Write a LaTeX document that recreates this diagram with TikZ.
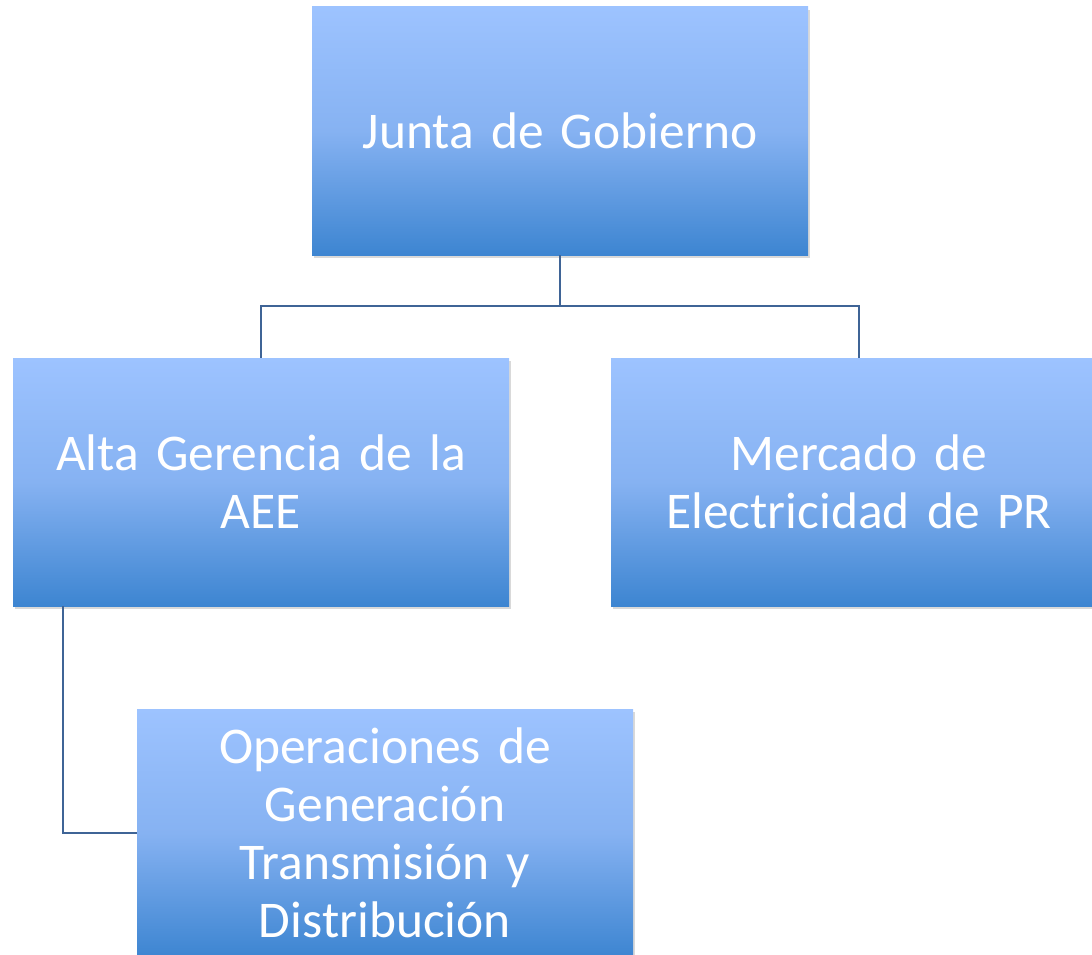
\documentclass[tikz,border=0pt]{standalone}
\usepackage{fontspec}
\setmainfont[WordSpace=0.7]{Carlito}
\usetikzlibrary{shadows}

\definecolor{boxtop}{HTML}{9DC3FF}
\definecolor{boxmid}{HTML}{86B2F2}
\definecolor{boxbot}{HTML}{3D85D1}
\definecolor{linkblue}{HTML}{3F6496}

\begin{document}
\begin{tikzpicture}[
    x=1pt, y=1pt,
    orgbox/.style={shape=rectangle, minimum width=496pt, minimum height=248pt,
        inner sep=0pt, top color=boxtop, bottom color=boxbot, middle color=boxmid,
        text=white, align=center, text width=480pt,
        font=\fontsize{51.5}{58}\selectfont,
        drop shadow={opacity=0.3, shadow xshift=2pt, shadow yshift=-3pt}},
    orglink/.style={draw=linkblue, line width=1.6pt},
]
\useasboundingbox (0,0) rectangle (1092,-955);

\node[orgbox] (junta) at (560, -131) {Junta de Gobierno};
\node[orgbox] (alta) at (261, -482) {Alta Gerencia de la\\AEE};
\node[orgbox] (mercado) at (859, -482) {Mercado de\\Electricidad de PR};
\node[orgbox] (oper) at (385, -833) {Operaciones de\\Generación\\Transmisión y\\Distribución};

\coordinate (split) at (560, -306);

\draw[orglink] (junta.south) -- (split) -| (alta.north);
\draw[orglink] (split) -| (mercado.north);
\draw[orglink] (alta.south -| 63, 0) |- (oper.west);
\end{tikzpicture}
\end{document}
